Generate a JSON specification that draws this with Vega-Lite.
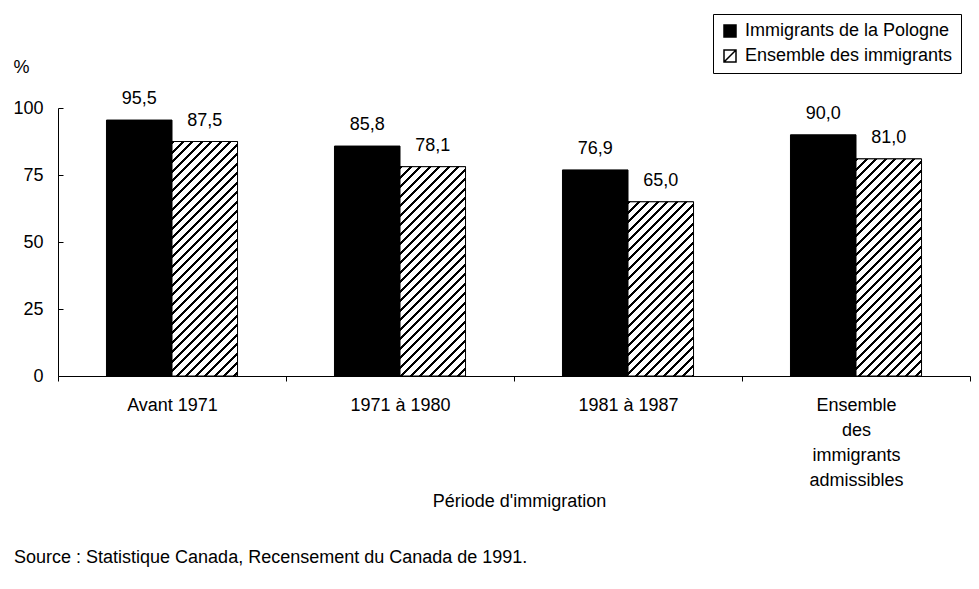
{
  "$schema": "https://vega.github.io/schema/vega-lite/v6.json",
  "autosize": "none",
  "width": 912,
  "height": 268,
  "padding": {"left": 58, "top": 108, "right": 9, "bottom": 213},
  "background": "white",
  "title": {
    "text": "Source : Statistique Canada, Recensement du Canada de 1991.",
    "orient": "bottom",
    "anchor": "start",
    "frame": "group",
    "offset": 53,
    "dx": -44,
    "baseline": "alphabetic",
    "fontSize": 18,
    "fontWeight": "normal",
    "font": "Liberation Sans",
    "color": "black"
  },
  "data": {
    "values": [
      {"periode": "Avant 1971", "serie": "Immigrants de la Pologne", "valeur": 95.5},
      {"periode": "Avant 1971", "serie": "Ensemble des immigrants", "valeur": 87.5},
      {"periode": "1971 à 1980", "serie": "Immigrants de la Pologne", "valeur": 85.8},
      {"periode": "1971 à 1980", "serie": "Ensemble des immigrants", "valeur": 78.1},
      {"periode": "1981 à 1987", "serie": "Immigrants de la Pologne", "valeur": 76.9},
      {"periode": "1981 à 1987", "serie": "Ensemble des immigrants", "valeur": 65.0},
      {"periode": "Ensemble des immigrants admissibles", "serie": "Immigrants de la Pologne", "valeur": 90.0},
      {"periode": "Ensemble des immigrants admissibles", "serie": "Ensemble des immigrants", "valeur": 81.0}
    ]
  },
  "encoding": {
    "x": {
      "field": "periode",
      "type": "nominal",
      "scale": {"domain": ["Avant 1971", "1971 à 1980", "1981 à 1987", "Ensemble des immigrants admissibles"], "paddingInner": 0, "paddingOuter": 0},
      "axis": {
        "title": "Période d'immigration",
        "labelAngle": 0,
        "tickBand": "extent",
        "tickSize": 5,
        "labelPadding": 15,
        "labelBaseline": "top",
        "labelLineHeight": 25,
        "labelExpr": "datum.value == 'Ensemble des immigrants admissibles' ? ['Ensemble', 'des', 'immigrants', 'admissibles'] : datum.value",
        "titleX": 461,
        "titleY": 130,
        "titleAlign": "center",
        "titleBaseline": "alphabetic"
      }
    },
    "xOffset": {
      "field": "serie",
      "type": "nominal",
      "scale": {"domain": ["Immigrants de la Pologne", "Ensemble des immigrants"], "paddingInner": 0, "paddingOuter": 0.74}
    },
    "y": {
      "field": "valeur",
      "type": "quantitative",
      "scale": {"domain": [0, 100]},
      "axis": {
        "title": "%",
        "values": [0, 25, 50, 75, 100],
        "tickSize": -5,
        "labelPadding": 20,
        "titleAngle": 0,
        "titleX": -37,
        "titleY": -36,
        "titleAlign": "center",
        "titleBaseline": "alphabetic"
      }
    }
  },
  "layer": [
    {
      "mark": {"type": "bar", "stroke": "black", "strokeWidth": 1},
      "encoding": {
        "color": {
          "field": "serie",
          "type": "nominal",
          "scale": {"domain": ["Immigrants de la Pologne", "Ensemble des immigrants"], "range": ["black", "white"]},
          "legend": {
            "title": null,
            "orient": "none",
            "legendX": 655,
            "legendY": -94,
            "padding": 8,
            "fillColor": "white",
            "strokeColor": "black",
            "symbolType": "M-1,-1H1V1H-1Z M-1,1L1,-1",
            "symbolSize": 144,
            "symbolStrokeColor": "black",
            "symbolStrokeWidth": 1.5,
            "labelFontSize": 18,
            "labelFont": "Liberation Sans",
            "labelColor": "black",
            "labelLimit": 400,
            "labelOffset": 6,
            "rowPadding": 7
          }
        }
      }
    },
    {
      "transform": [{"filter": "datum.serie === 'Ensemble des immigrants' && datum.periode === 'Avant 1971'"}],
      "mark": {"type": "bar", "stroke": "black", "strokeWidth": 1, "fill": {"gradient": "linear", "x1": 0, "y1": 0, "x2": 0.3359, "y2": 1.2026, "stops": [
        {"offset":0,"color":"#000"},{"offset":0.01,"color":"#000"},{"offset":0.01,"color":"#fff"},{"offset":0.03125,"color":"#fff"},
        {"offset":0.03125,"color":"#000"},{"offset":0.04125,"color":"#000"},{"offset":0.04125,"color":"#fff"},{"offset":0.0625,"color":"#fff"},
        {"offset":0.0625,"color":"#000"},{"offset":0.0725,"color":"#000"},{"offset":0.0725,"color":"#fff"},{"offset":0.09375,"color":"#fff"},
        {"offset":0.09375,"color":"#000"},{"offset":0.10375,"color":"#000"},{"offset":0.10375,"color":"#fff"},{"offset":0.125,"color":"#fff"},
        {"offset":0.125,"color":"#000"},{"offset":0.135,"color":"#000"},{"offset":0.135,"color":"#fff"},{"offset":0.15625,"color":"#fff"},
        {"offset":0.15625,"color":"#000"},{"offset":0.16625,"color":"#000"},{"offset":0.16625,"color":"#fff"},{"offset":0.1875,"color":"#fff"},
        {"offset":0.1875,"color":"#000"},{"offset":0.1975,"color":"#000"},{"offset":0.1975,"color":"#fff"},{"offset":0.21875,"color":"#fff"},
        {"offset":0.21875,"color":"#000"},{"offset":0.22875,"color":"#000"},{"offset":0.22875,"color":"#fff"},{"offset":0.25,"color":"#fff"},
        {"offset":0.25,"color":"#000"},{"offset":0.26,"color":"#000"},{"offset":0.26,"color":"#fff"},{"offset":0.28125,"color":"#fff"},
        {"offset":0.28125,"color":"#000"},{"offset":0.29125,"color":"#000"},{"offset":0.29125,"color":"#fff"},{"offset":0.3125,"color":"#fff"},
        {"offset":0.3125,"color":"#000"},{"offset":0.3225,"color":"#000"},{"offset":0.3225,"color":"#fff"},{"offset":0.34375,"color":"#fff"},
        {"offset":0.34375,"color":"#000"},{"offset":0.35375,"color":"#000"},{"offset":0.35375,"color":"#fff"},{"offset":0.375,"color":"#fff"},
        {"offset":0.375,"color":"#000"},{"offset":0.385,"color":"#000"},{"offset":0.385,"color":"#fff"},{"offset":0.40625,"color":"#fff"},
        {"offset":0.40625,"color":"#000"},{"offset":0.41625,"color":"#000"},{"offset":0.41625,"color":"#fff"},{"offset":0.4375,"color":"#fff"},
        {"offset":0.4375,"color":"#000"},{"offset":0.4475,"color":"#000"},{"offset":0.4475,"color":"#fff"},{"offset":0.46875,"color":"#fff"},
        {"offset":0.46875,"color":"#000"},{"offset":0.47875,"color":"#000"},{"offset":0.47875,"color":"#fff"},{"offset":0.5,"color":"#fff"},
        {"offset":0.5,"color":"#000"},{"offset":0.51,"color":"#000"},{"offset":0.51,"color":"#fff"},{"offset":0.53125,"color":"#fff"},
        {"offset":0.53125,"color":"#000"},{"offset":0.54125,"color":"#000"},{"offset":0.54125,"color":"#fff"},{"offset":0.5625,"color":"#fff"},
        {"offset":0.5625,"color":"#000"},{"offset":0.5725,"color":"#000"},{"offset":0.5725,"color":"#fff"},{"offset":0.59375,"color":"#fff"},
        {"offset":0.59375,"color":"#000"},{"offset":0.60375,"color":"#000"},{"offset":0.60375,"color":"#fff"},{"offset":0.625,"color":"#fff"},
        {"offset":0.625,"color":"#000"},{"offset":0.635,"color":"#000"},{"offset":0.635,"color":"#fff"},{"offset":0.65625,"color":"#fff"},
        {"offset":0.65625,"color":"#000"},{"offset":0.66625,"color":"#000"},{"offset":0.66625,"color":"#fff"},{"offset":0.6875,"color":"#fff"},
        {"offset":0.6875,"color":"#000"},{"offset":0.6975,"color":"#000"},{"offset":0.6975,"color":"#fff"},{"offset":0.71875,"color":"#fff"},
        {"offset":0.71875,"color":"#000"},{"offset":0.72875,"color":"#000"},{"offset":0.72875,"color":"#fff"},{"offset":0.75,"color":"#fff"},
        {"offset":0.75,"color":"#000"},{"offset":0.76,"color":"#000"},{"offset":0.76,"color":"#fff"},{"offset":0.78125,"color":"#fff"},
        {"offset":0.78125,"color":"#000"},{"offset":0.79125,"color":"#000"},{"offset":0.79125,"color":"#fff"},{"offset":0.8125,"color":"#fff"},
        {"offset":0.8125,"color":"#000"},{"offset":0.8225,"color":"#000"},{"offset":0.8225,"color":"#fff"},{"offset":0.84375,"color":"#fff"},
        {"offset":0.84375,"color":"#000"},{"offset":0.85375,"color":"#000"},{"offset":0.85375,"color":"#fff"},{"offset":0.875,"color":"#fff"},
        {"offset":0.875,"color":"#000"},{"offset":0.885,"color":"#000"},{"offset":0.885,"color":"#fff"},{"offset":0.90625,"color":"#fff"},
        {"offset":0.90625,"color":"#000"},{"offset":0.91625,"color":"#000"},{"offset":0.91625,"color":"#fff"},{"offset":0.9375,"color":"#fff"},
        {"offset":0.9375,"color":"#000"},{"offset":0.9475,"color":"#000"},{"offset":0.9475,"color":"#fff"},{"offset":0.96875,"color":"#fff"},
        {"offset":0.96875,"color":"#000"},{"offset":0.97875,"color":"#000"},{"offset":0.97875,"color":"#fff"},{"offset":1,"color":"#fff"}
      ]}}
    },
    {
      "transform": [{"filter": "datum.serie === 'Ensemble des immigrants' && datum.periode === '1971 à 1980'"}],
      "mark": {"type": "bar", "stroke": "black", "strokeWidth": 1, "fill": {"gradient": "linear", "x1": 0, "y1": 0, "x2": 0.4140, "y2": 1.3229, "stops": [
        {"offset":0,"color":"#000"},{"offset":0.01,"color":"#000"},{"offset":0.01,"color":"#fff"},{"offset":0.03125,"color":"#fff"},
        {"offset":0.03125,"color":"#000"},{"offset":0.04125,"color":"#000"},{"offset":0.04125,"color":"#fff"},{"offset":0.0625,"color":"#fff"},
        {"offset":0.0625,"color":"#000"},{"offset":0.0725,"color":"#000"},{"offset":0.0725,"color":"#fff"},{"offset":0.09375,"color":"#fff"},
        {"offset":0.09375,"color":"#000"},{"offset":0.10375,"color":"#000"},{"offset":0.10375,"color":"#fff"},{"offset":0.125,"color":"#fff"},
        {"offset":0.125,"color":"#000"},{"offset":0.135,"color":"#000"},{"offset":0.135,"color":"#fff"},{"offset":0.15625,"color":"#fff"},
        {"offset":0.15625,"color":"#000"},{"offset":0.16625,"color":"#000"},{"offset":0.16625,"color":"#fff"},{"offset":0.1875,"color":"#fff"},
        {"offset":0.1875,"color":"#000"},{"offset":0.1975,"color":"#000"},{"offset":0.1975,"color":"#fff"},{"offset":0.21875,"color":"#fff"},
        {"offset":0.21875,"color":"#000"},{"offset":0.22875,"color":"#000"},{"offset":0.22875,"color":"#fff"},{"offset":0.25,"color":"#fff"},
        {"offset":0.25,"color":"#000"},{"offset":0.26,"color":"#000"},{"offset":0.26,"color":"#fff"},{"offset":0.28125,"color":"#fff"},
        {"offset":0.28125,"color":"#000"},{"offset":0.29125,"color":"#000"},{"offset":0.29125,"color":"#fff"},{"offset":0.3125,"color":"#fff"},
        {"offset":0.3125,"color":"#000"},{"offset":0.3225,"color":"#000"},{"offset":0.3225,"color":"#fff"},{"offset":0.34375,"color":"#fff"},
        {"offset":0.34375,"color":"#000"},{"offset":0.35375,"color":"#000"},{"offset":0.35375,"color":"#fff"},{"offset":0.375,"color":"#fff"},
        {"offset":0.375,"color":"#000"},{"offset":0.385,"color":"#000"},{"offset":0.385,"color":"#fff"},{"offset":0.40625,"color":"#fff"},
        {"offset":0.40625,"color":"#000"},{"offset":0.41625,"color":"#000"},{"offset":0.41625,"color":"#fff"},{"offset":0.4375,"color":"#fff"},
        {"offset":0.4375,"color":"#000"},{"offset":0.4475,"color":"#000"},{"offset":0.4475,"color":"#fff"},{"offset":0.46875,"color":"#fff"},
        {"offset":0.46875,"color":"#000"},{"offset":0.47875,"color":"#000"},{"offset":0.47875,"color":"#fff"},{"offset":0.5,"color":"#fff"},
        {"offset":0.5,"color":"#000"},{"offset":0.51,"color":"#000"},{"offset":0.51,"color":"#fff"},{"offset":0.53125,"color":"#fff"},
        {"offset":0.53125,"color":"#000"},{"offset":0.54125,"color":"#000"},{"offset":0.54125,"color":"#fff"},{"offset":0.5625,"color":"#fff"},
        {"offset":0.5625,"color":"#000"},{"offset":0.5725,"color":"#000"},{"offset":0.5725,"color":"#fff"},{"offset":0.59375,"color":"#fff"},
        {"offset":0.59375,"color":"#000"},{"offset":0.60375,"color":"#000"},{"offset":0.60375,"color":"#fff"},{"offset":0.625,"color":"#fff"},
        {"offset":0.625,"color":"#000"},{"offset":0.635,"color":"#000"},{"offset":0.635,"color":"#fff"},{"offset":0.65625,"color":"#fff"},
        {"offset":0.65625,"color":"#000"},{"offset":0.66625,"color":"#000"},{"offset":0.66625,"color":"#fff"},{"offset":0.6875,"color":"#fff"},
        {"offset":0.6875,"color":"#000"},{"offset":0.6975,"color":"#000"},{"offset":0.6975,"color":"#fff"},{"offset":0.71875,"color":"#fff"},
        {"offset":0.71875,"color":"#000"},{"offset":0.72875,"color":"#000"},{"offset":0.72875,"color":"#fff"},{"offset":0.75,"color":"#fff"},
        {"offset":0.75,"color":"#000"},{"offset":0.76,"color":"#000"},{"offset":0.76,"color":"#fff"},{"offset":0.78125,"color":"#fff"},
        {"offset":0.78125,"color":"#000"},{"offset":0.79125,"color":"#000"},{"offset":0.79125,"color":"#fff"},{"offset":0.8125,"color":"#fff"},
        {"offset":0.8125,"color":"#000"},{"offset":0.8225,"color":"#000"},{"offset":0.8225,"color":"#fff"},{"offset":0.84375,"color":"#fff"},
        {"offset":0.84375,"color":"#000"},{"offset":0.85375,"color":"#000"},{"offset":0.85375,"color":"#fff"},{"offset":0.875,"color":"#fff"},
        {"offset":0.875,"color":"#000"},{"offset":0.885,"color":"#000"},{"offset":0.885,"color":"#fff"},{"offset":0.90625,"color":"#fff"},
        {"offset":0.90625,"color":"#000"},{"offset":0.91625,"color":"#000"},{"offset":0.91625,"color":"#fff"},{"offset":0.9375,"color":"#fff"},
        {"offset":0.9375,"color":"#000"},{"offset":0.9475,"color":"#000"},{"offset":0.9475,"color":"#fff"},{"offset":0.96875,"color":"#fff"},
        {"offset":0.96875,"color":"#000"},{"offset":0.97875,"color":"#000"},{"offset":0.97875,"color":"#fff"},{"offset":1,"color":"#fff"}
      ]}}
    },
    {
      "transform": [{"filter": "datum.serie === 'Ensemble des immigrants' && datum.periode === '1981 à 1987'"}],
      "mark": {"type": "bar", "stroke": "black", "strokeWidth": 1, "fill": {"gradient": "linear", "x1": 0, "y1": 0, "x2": 0.5749, "y2": 1.5290, "stops": [
        {"offset":0,"color":"#000"},{"offset":0.01,"color":"#000"},{"offset":0.01,"color":"#fff"},{"offset":0.03125,"color":"#fff"},
        {"offset":0.03125,"color":"#000"},{"offset":0.04125,"color":"#000"},{"offset":0.04125,"color":"#fff"},{"offset":0.0625,"color":"#fff"},
        {"offset":0.0625,"color":"#000"},{"offset":0.0725,"color":"#000"},{"offset":0.0725,"color":"#fff"},{"offset":0.09375,"color":"#fff"},
        {"offset":0.09375,"color":"#000"},{"offset":0.10375,"color":"#000"},{"offset":0.10375,"color":"#fff"},{"offset":0.125,"color":"#fff"},
        {"offset":0.125,"color":"#000"},{"offset":0.135,"color":"#000"},{"offset":0.135,"color":"#fff"},{"offset":0.15625,"color":"#fff"},
        {"offset":0.15625,"color":"#000"},{"offset":0.16625,"color":"#000"},{"offset":0.16625,"color":"#fff"},{"offset":0.1875,"color":"#fff"},
        {"offset":0.1875,"color":"#000"},{"offset":0.1975,"color":"#000"},{"offset":0.1975,"color":"#fff"},{"offset":0.21875,"color":"#fff"},
        {"offset":0.21875,"color":"#000"},{"offset":0.22875,"color":"#000"},{"offset":0.22875,"color":"#fff"},{"offset":0.25,"color":"#fff"},
        {"offset":0.25,"color":"#000"},{"offset":0.26,"color":"#000"},{"offset":0.26,"color":"#fff"},{"offset":0.28125,"color":"#fff"},
        {"offset":0.28125,"color":"#000"},{"offset":0.29125,"color":"#000"},{"offset":0.29125,"color":"#fff"},{"offset":0.3125,"color":"#fff"},
        {"offset":0.3125,"color":"#000"},{"offset":0.3225,"color":"#000"},{"offset":0.3225,"color":"#fff"},{"offset":0.34375,"color":"#fff"},
        {"offset":0.34375,"color":"#000"},{"offset":0.35375,"color":"#000"},{"offset":0.35375,"color":"#fff"},{"offset":0.375,"color":"#fff"},
        {"offset":0.375,"color":"#000"},{"offset":0.385,"color":"#000"},{"offset":0.385,"color":"#fff"},{"offset":0.40625,"color":"#fff"},
        {"offset":0.40625,"color":"#000"},{"offset":0.41625,"color":"#000"},{"offset":0.41625,"color":"#fff"},{"offset":0.4375,"color":"#fff"},
        {"offset":0.4375,"color":"#000"},{"offset":0.4475,"color":"#000"},{"offset":0.4475,"color":"#fff"},{"offset":0.46875,"color":"#fff"},
        {"offset":0.46875,"color":"#000"},{"offset":0.47875,"color":"#000"},{"offset":0.47875,"color":"#fff"},{"offset":0.5,"color":"#fff"},
        {"offset":0.5,"color":"#000"},{"offset":0.51,"color":"#000"},{"offset":0.51,"color":"#fff"},{"offset":0.53125,"color":"#fff"},
        {"offset":0.53125,"color":"#000"},{"offset":0.54125,"color":"#000"},{"offset":0.54125,"color":"#fff"},{"offset":0.5625,"color":"#fff"},
        {"offset":0.5625,"color":"#000"},{"offset":0.5725,"color":"#000"},{"offset":0.5725,"color":"#fff"},{"offset":0.59375,"color":"#fff"},
        {"offset":0.59375,"color":"#000"},{"offset":0.60375,"color":"#000"},{"offset":0.60375,"color":"#fff"},{"offset":0.625,"color":"#fff"},
        {"offset":0.625,"color":"#000"},{"offset":0.635,"color":"#000"},{"offset":0.635,"color":"#fff"},{"offset":0.65625,"color":"#fff"},
        {"offset":0.65625,"color":"#000"},{"offset":0.66625,"color":"#000"},{"offset":0.66625,"color":"#fff"},{"offset":0.6875,"color":"#fff"},
        {"offset":0.6875,"color":"#000"},{"offset":0.6975,"color":"#000"},{"offset":0.6975,"color":"#fff"},{"offset":0.71875,"color":"#fff"},
        {"offset":0.71875,"color":"#000"},{"offset":0.72875,"color":"#000"},{"offset":0.72875,"color":"#fff"},{"offset":0.75,"color":"#fff"},
        {"offset":0.75,"color":"#000"},{"offset":0.76,"color":"#000"},{"offset":0.76,"color":"#fff"},{"offset":0.78125,"color":"#fff"},
        {"offset":0.78125,"color":"#000"},{"offset":0.79125,"color":"#000"},{"offset":0.79125,"color":"#fff"},{"offset":0.8125,"color":"#fff"},
        {"offset":0.8125,"color":"#000"},{"offset":0.8225,"color":"#000"},{"offset":0.8225,"color":"#fff"},{"offset":0.84375,"color":"#fff"},
        {"offset":0.84375,"color":"#000"},{"offset":0.85375,"color":"#000"},{"offset":0.85375,"color":"#fff"},{"offset":0.875,"color":"#fff"},
        {"offset":0.875,"color":"#000"},{"offset":0.885,"color":"#000"},{"offset":0.885,"color":"#fff"},{"offset":0.90625,"color":"#fff"},
        {"offset":0.90625,"color":"#000"},{"offset":0.91625,"color":"#000"},{"offset":0.91625,"color":"#fff"},{"offset":0.9375,"color":"#fff"},
        {"offset":0.9375,"color":"#000"},{"offset":0.9475,"color":"#000"},{"offset":0.9475,"color":"#fff"},{"offset":0.96875,"color":"#fff"},
        {"offset":0.96875,"color":"#000"},{"offset":0.97875,"color":"#000"},{"offset":0.97875,"color":"#fff"},{"offset":1,"color":"#fff"}
      ]}}
    },
    {
      "transform": [{"filter": "datum.serie === 'Ensemble des immigrants' && datum.periode === 'Ensemble des immigrants admissibles'"}],
      "mark": {"type": "bar", "stroke": "black", "strokeWidth": 1, "fill": {"gradient": "linear", "x1": 0, "y1": 0, "x2": 0.3872, "y2": 1.2834, "stops": [
        {"offset":0,"color":"#000"},{"offset":0.01,"color":"#000"},{"offset":0.01,"color":"#fff"},{"offset":0.03125,"color":"#fff"},
        {"offset":0.03125,"color":"#000"},{"offset":0.04125,"color":"#000"},{"offset":0.04125,"color":"#fff"},{"offset":0.0625,"color":"#fff"},
        {"offset":0.0625,"color":"#000"},{"offset":0.0725,"color":"#000"},{"offset":0.0725,"color":"#fff"},{"offset":0.09375,"color":"#fff"},
        {"offset":0.09375,"color":"#000"},{"offset":0.10375,"color":"#000"},{"offset":0.10375,"color":"#fff"},{"offset":0.125,"color":"#fff"},
        {"offset":0.125,"color":"#000"},{"offset":0.135,"color":"#000"},{"offset":0.135,"color":"#fff"},{"offset":0.15625,"color":"#fff"},
        {"offset":0.15625,"color":"#000"},{"offset":0.16625,"color":"#000"},{"offset":0.16625,"color":"#fff"},{"offset":0.1875,"color":"#fff"},
        {"offset":0.1875,"color":"#000"},{"offset":0.1975,"color":"#000"},{"offset":0.1975,"color":"#fff"},{"offset":0.21875,"color":"#fff"},
        {"offset":0.21875,"color":"#000"},{"offset":0.22875,"color":"#000"},{"offset":0.22875,"color":"#fff"},{"offset":0.25,"color":"#fff"},
        {"offset":0.25,"color":"#000"},{"offset":0.26,"color":"#000"},{"offset":0.26,"color":"#fff"},{"offset":0.28125,"color":"#fff"},
        {"offset":0.28125,"color":"#000"},{"offset":0.29125,"color":"#000"},{"offset":0.29125,"color":"#fff"},{"offset":0.3125,"color":"#fff"},
        {"offset":0.3125,"color":"#000"},{"offset":0.3225,"color":"#000"},{"offset":0.3225,"color":"#fff"},{"offset":0.34375,"color":"#fff"},
        {"offset":0.34375,"color":"#000"},{"offset":0.35375,"color":"#000"},{"offset":0.35375,"color":"#fff"},{"offset":0.375,"color":"#fff"},
        {"offset":0.375,"color":"#000"},{"offset":0.385,"color":"#000"},{"offset":0.385,"color":"#fff"},{"offset":0.40625,"color":"#fff"},
        {"offset":0.40625,"color":"#000"},{"offset":0.41625,"color":"#000"},{"offset":0.41625,"color":"#fff"},{"offset":0.4375,"color":"#fff"},
        {"offset":0.4375,"color":"#000"},{"offset":0.4475,"color":"#000"},{"offset":0.4475,"color":"#fff"},{"offset":0.46875,"color":"#fff"},
        {"offset":0.46875,"color":"#000"},{"offset":0.47875,"color":"#000"},{"offset":0.47875,"color":"#fff"},{"offset":0.5,"color":"#fff"},
        {"offset":0.5,"color":"#000"},{"offset":0.51,"color":"#000"},{"offset":0.51,"color":"#fff"},{"offset":0.53125,"color":"#fff"},
        {"offset":0.53125,"color":"#000"},{"offset":0.54125,"color":"#000"},{"offset":0.54125,"color":"#fff"},{"offset":0.5625,"color":"#fff"},
        {"offset":0.5625,"color":"#000"},{"offset":0.5725,"color":"#000"},{"offset":0.5725,"color":"#fff"},{"offset":0.59375,"color":"#fff"},
        {"offset":0.59375,"color":"#000"},{"offset":0.60375,"color":"#000"},{"offset":0.60375,"color":"#fff"},{"offset":0.625,"color":"#fff"},
        {"offset":0.625,"color":"#000"},{"offset":0.635,"color":"#000"},{"offset":0.635,"color":"#fff"},{"offset":0.65625,"color":"#fff"},
        {"offset":0.65625,"color":"#000"},{"offset":0.66625,"color":"#000"},{"offset":0.66625,"color":"#fff"},{"offset":0.6875,"color":"#fff"},
        {"offset":0.6875,"color":"#000"},{"offset":0.6975,"color":"#000"},{"offset":0.6975,"color":"#fff"},{"offset":0.71875,"color":"#fff"},
        {"offset":0.71875,"color":"#000"},{"offset":0.72875,"color":"#000"},{"offset":0.72875,"color":"#fff"},{"offset":0.75,"color":"#fff"},
        {"offset":0.75,"color":"#000"},{"offset":0.76,"color":"#000"},{"offset":0.76,"color":"#fff"},{"offset":0.78125,"color":"#fff"},
        {"offset":0.78125,"color":"#000"},{"offset":0.79125,"color":"#000"},{"offset":0.79125,"color":"#fff"},{"offset":0.8125,"color":"#fff"},
        {"offset":0.8125,"color":"#000"},{"offset":0.8225,"color":"#000"},{"offset":0.8225,"color":"#fff"},{"offset":0.84375,"color":"#fff"},
        {"offset":0.84375,"color":"#000"},{"offset":0.85375,"color":"#000"},{"offset":0.85375,"color":"#fff"},{"offset":0.875,"color":"#fff"},
        {"offset":0.875,"color":"#000"},{"offset":0.885,"color":"#000"},{"offset":0.885,"color":"#fff"},{"offset":0.90625,"color":"#fff"},
        {"offset":0.90625,"color":"#000"},{"offset":0.91625,"color":"#000"},{"offset":0.91625,"color":"#fff"},{"offset":0.9375,"color":"#fff"},
        {"offset":0.9375,"color":"#000"},{"offset":0.9475,"color":"#000"},{"offset":0.9475,"color":"#fff"},{"offset":0.96875,"color":"#fff"},
        {"offset":0.96875,"color":"#000"},{"offset":0.97875,"color":"#000"},{"offset":0.97875,"color":"#fff"},{"offset":1,"color":"#fff"}
      ]}}
    },
    {
      "mark": {"type": "text", "baseline": "alphabetic", "dy": -16, "fontSize": 18, "font": "Liberation Sans", "color": "black"},
      "encoding": {
        "text": {"field": "valeur", "type": "quantitative", "format": ".1f"}
      }
    }
  ],
  "config": {
    "locale": {"number": {"decimal": ",", "thousands": " ", "grouping": [3], "currency": ["", " $"]}},
    "view": {"stroke": null},
    "font": "Liberation Sans",
    "axis": {
      "domainColor": "black",
      "tickColor": "black",
      "labelColor": "black",
      "titleColor": "black",
      "grid": false,
      "labelFont": "Liberation Sans",
      "titleFont": "Liberation Sans",
      "labelFontSize": 18,
      "titleFontSize": 18,
      "titleFontWeight": "normal"
    }
  }
}
